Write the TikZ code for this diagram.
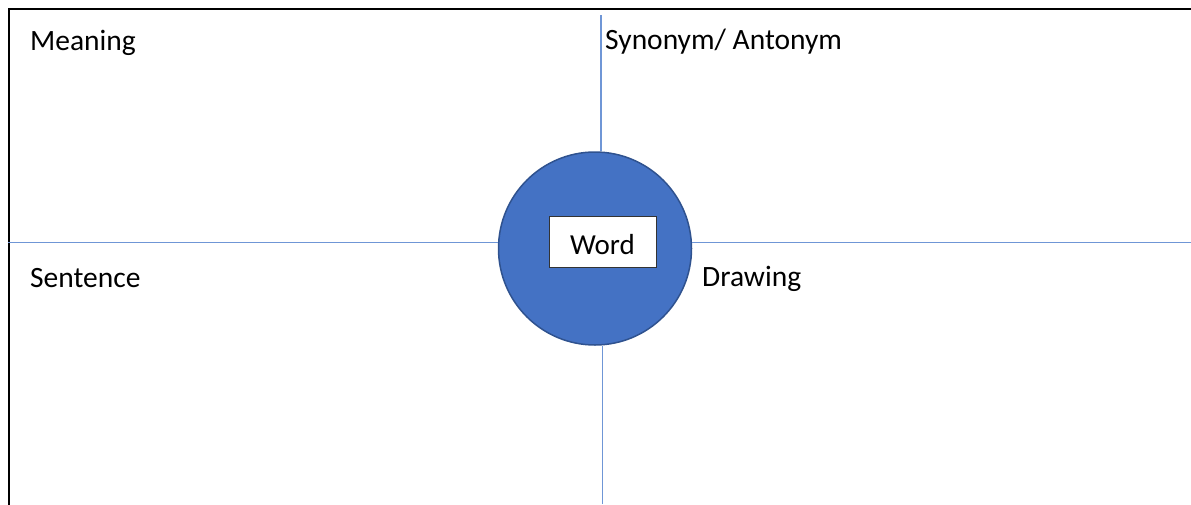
\documentclass[tikz,border=0pt]{standalone}
\usepackage{fontspec}
\setmainfont{Carlito}
\definecolor{linecol}{HTML}{6F96D6}
\definecolor{circfill}{HTML}{4472C4}
\definecolor{circdraw}{HTML}{2F528F}
\tikzset{
  lbl/.style={anchor=base west, inner sep=0pt, font=\fontsize{29.5}{31}\selectfont},
  axis/.style={draw=linecol, line width=1.4pt},
}
\begin{document}
\begin{tikzpicture}[x=1pt,y=-1pt]
\useasboundingbox (0,0) rectangle (1191,504);
\begin{scope}
\clip (0,0) rectangle (1191,504);
\draw[line width=2.2pt] (9,9) rectangle (1200,520);
\end{scope}
\node[circle, fill=circfill, draw=circdraw, line width=1.5pt, minimum size=193pt, inner sep=0pt] (c) at (595,248.5) {};
\node[draw=black!80, fill=white, line width=0.9pt, minimum width=107pt, minimum height=50.5pt, inner sep=0pt] (w) at (602.5,242) {};
\node[anchor=base, inner sep=0pt, font=\fontsize{29}{31}\selectfont] (wt) at (602.5,254) {Word};
\coordinate (top) at (601,15);
\coordinate (bot) at (602.5,504);
\coordinate (lft) at (8,242.5);
\coordinate (rgt) at (1191,242.5);
\draw[axis] (top) -- (top |- c.north);
\draw[axis] (bot) -- (bot |- c.south);
\draw[axis] (lft) -- (lft -| c.west);
\draw[axis] (rgt) -- (rgt -| c.east);
\node[lbl] (m) at (30,50) {Meaning};
\node[lbl] (s) at (605,49) {Synonym/ Antonym};
\node[lbl] (se) at (30,287) {Sentence};
\node[lbl] (d) at (702,286) {Drawing};
\end{tikzpicture}
\end{document}
